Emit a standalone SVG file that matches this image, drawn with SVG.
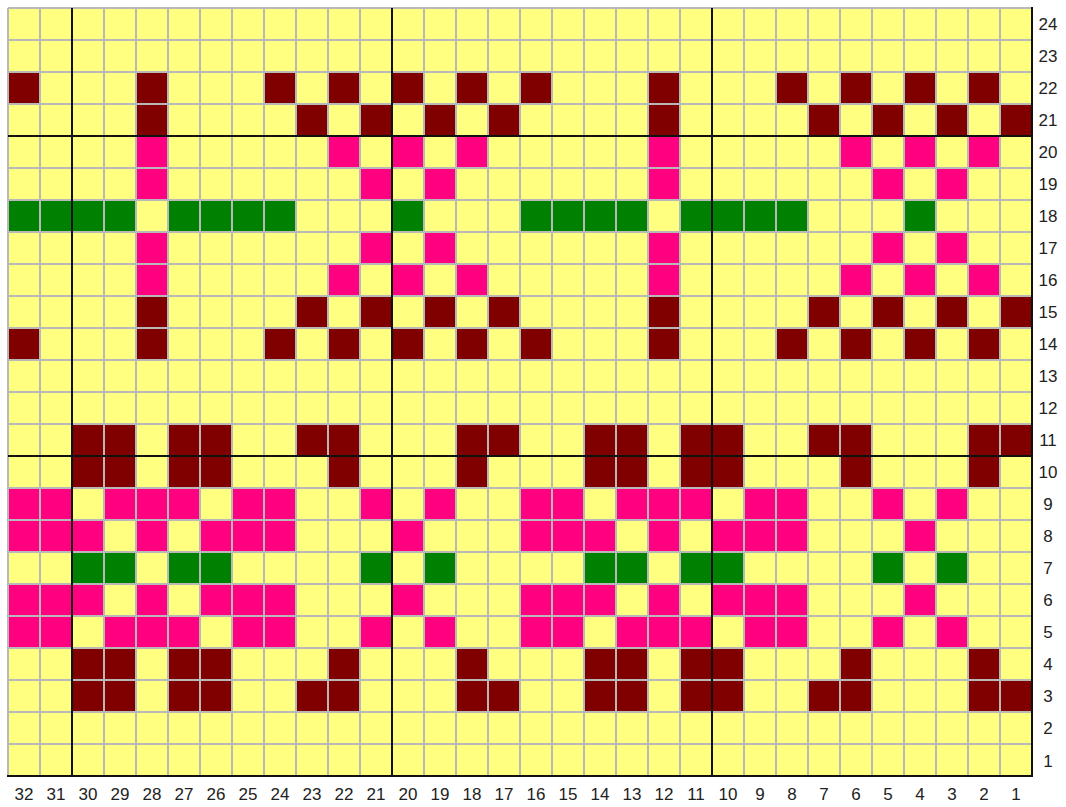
<svg xmlns="http://www.w3.org/2000/svg" width="1066" height="807" viewBox="0 0 1066 807">
<style>
.bg{fill:#ffff80}
.r{fill:#800000}
.p{fill:#ff0080}
.g{fill:#008000}
.grid{stroke:#b8b8b8;stroke-width:2;fill:none}
.thick{stroke:#111;stroke-width:2;fill:none}
text{font-family:"Liberation Sans",Arial,sans-serif;font-size:17px;fill:#222;text-anchor:middle}
</style>
<rect width="1066" height="807" fill="#fff"/>
<g id="chart">
<rect class="bg" x="8" y="8" width="1024" height="768"/>
<g id="darkred" class="r">
<path d="M8 72h32v32h-32zM136 72h32v32h-32zM264 72h32v32h-32zM328 72h32v32h-32zM392 72h32v32h-32zM456 72h32v32h-32zM520 72h32v32h-32zM648 72h32v32h-32zM776 72h32v32h-32zM840 72h32v32h-32zM904 72h32v32h-32zM968 72h32v32h-32z"/>
<path d="M136 104h32v32h-32zM296 104h32v32h-32zM360 104h32v32h-32zM424 104h32v32h-32zM488 104h32v32h-32zM648 104h32v32h-32zM808 104h32v32h-32zM872 104h32v32h-32zM936 104h32v32h-32zM1000 104h32v32h-32z"/>
<path d="M136 296h32v32h-32zM296 296h32v32h-32zM360 296h32v32h-32zM424 296h32v32h-32zM488 296h32v32h-32zM648 296h32v32h-32zM808 296h32v32h-32zM872 296h32v32h-32zM936 296h32v32h-32zM1000 296h32v32h-32z"/>
<path d="M8 328h32v32h-32zM136 328h32v32h-32zM264 328h32v32h-32zM328 328h32v32h-32zM392 328h32v32h-32zM456 328h32v32h-32zM520 328h32v32h-32zM648 328h32v32h-32zM776 328h32v32h-32zM840 328h32v32h-32zM904 328h32v32h-32zM968 328h32v32h-32z"/>
<path d="M72 424h64v32h-64zM168 424h64v32h-64zM296 424h64v32h-64zM456 424h64v32h-64zM584 424h64v32h-64zM680 424h64v32h-64zM808 424h64v32h-64zM968 424h64v32h-64z"/>
<path d="M72 456h64v32h-64zM168 456h64v32h-64zM328 456h32v32h-32zM456 456h32v32h-32zM584 456h64v32h-64zM680 456h64v32h-64zM840 456h32v32h-32zM968 456h32v32h-32z"/>
<path d="M72 648h64v32h-64zM168 648h64v32h-64zM328 648h32v32h-32zM456 648h32v32h-32zM584 648h64v32h-64zM680 648h64v32h-64zM840 648h32v32h-32zM968 648h32v32h-32z"/>
<path d="M72 680h64v32h-64zM168 680h64v32h-64zM296 680h64v32h-64zM456 680h64v32h-64zM584 680h64v32h-64zM680 680h64v32h-64zM808 680h64v32h-64zM968 680h64v32h-64z"/>
</g>
<g id="pink" class="p">
<path d="M136 136h32v32h-32zM328 136h32v32h-32zM392 136h32v32h-32zM456 136h32v32h-32zM648 136h32v32h-32zM840 136h32v32h-32zM904 136h32v32h-32zM968 136h32v32h-32z"/>
<path d="M136 168h32v32h-32zM360 168h32v32h-32zM424 168h32v32h-32zM648 168h32v32h-32zM872 168h32v32h-32zM936 168h32v32h-32z"/>
<path d="M136 232h32v32h-32zM360 232h32v32h-32zM424 232h32v32h-32zM648 232h32v32h-32zM872 232h32v32h-32zM936 232h32v32h-32z"/>
<path d="M136 264h32v32h-32zM328 264h32v32h-32zM392 264h32v32h-32zM456 264h32v32h-32zM648 264h32v32h-32zM840 264h32v32h-32zM904 264h32v32h-32zM968 264h32v32h-32z"/>
<path d="M8 488h64v32h-64zM104 488h96v32h-96zM232 488h64v32h-64zM360 488h32v32h-32zM424 488h32v32h-32zM520 488h64v32h-64zM616 488h96v32h-96zM744 488h64v32h-64zM872 488h32v32h-32zM936 488h32v32h-32z"/>
<path d="M8 520h96v32h-96zM136 520h32v32h-32zM200 520h96v32h-96zM392 520h32v32h-32zM520 520h96v32h-96zM648 520h32v32h-32zM712 520h96v32h-96zM904 520h32v32h-32z"/>
<path d="M8 584h96v32h-96zM136 584h32v32h-32zM200 584h96v32h-96zM392 584h32v32h-32zM520 584h96v32h-96zM648 584h32v32h-32zM712 584h96v32h-96zM904 584h32v32h-32z"/>
<path d="M8 616h64v32h-64zM104 616h96v32h-96zM232 616h64v32h-64zM360 616h32v32h-32zM424 616h32v32h-32zM520 616h64v32h-64zM616 616h96v32h-96zM744 616h64v32h-64zM872 616h32v32h-32zM936 616h32v32h-32z"/>
</g>
<g id="green" class="g">
<path d="M8 200h128v32h-128zM168 200h128v32h-128zM392 200h32v32h-32zM520 200h128v32h-128zM680 200h128v32h-128zM904 200h32v32h-32z"/>
<path d="M72 552h64v32h-64zM168 552h64v32h-64zM360 552h32v32h-32zM424 552h32v32h-32zM584 552h64v32h-64zM680 552h64v32h-64zM872 552h32v32h-32zM936 552h32v32h-32z"/>
</g>
<g id="gridlines">
<path class="grid" d="M8 8V776M40 8V776M72 8V776M104 8V776M136 8V776M168 8V776M200 8V776M232 8V776M264 8V776M296 8V776M328 8V776M360 8V776M392 8V776M424 8V776M456 8V776M488 8V776M520 8V776M552 8V776M584 8V776M616 8V776M648 8V776M680 8V776M712 8V776M744 8V776M776 8V776M808 8V776M840 8V776M872 8V776M904 8V776M936 8V776M968 8V776M1000 8V776"/>
<path class="grid" d="M8 8H1032M8 40H1032M8 72H1032M8 104H1032M8 136H1032M8 168H1032M8 200H1032M8 232H1032M8 264H1032M8 296H1032M8 328H1032M8 360H1032M8 392H1032M8 424H1032M8 456H1032M8 488H1032M8 520H1032M8 552H1032M8 584H1032M8 616H1032M8 648H1032M8 680H1032M8 712H1032M8 744H1032"/>
<path class="thick" d="M72 8V776M392 8V776M712 8V776M8 136H1032M8 456H1032M1032 7V777M7 776H1033"/>
</g>
</g>
<g id="row-labels">
<text x="1048" y="30">24</text>
<text x="1048" y="62">23</text>
<text x="1048" y="94">22</text>
<text x="1048" y="126">21</text>
<text x="1048" y="158">20</text>
<text x="1048" y="190">19</text>
<text x="1048" y="222">18</text>
<text x="1048" y="254">17</text>
<text x="1048" y="286">16</text>
<text x="1048" y="318">15</text>
<text x="1048" y="350">14</text>
<text x="1048" y="382">13</text>
<text x="1048" y="414">12</text>
<text x="1048" y="446">11</text>
<text x="1048" y="478">10</text>
<text x="1048" y="510">9</text>
<text x="1048" y="542">8</text>
<text x="1048" y="574">7</text>
<text x="1048" y="606">6</text>
<text x="1048" y="638">5</text>
<text x="1048" y="670">4</text>
<text x="1048" y="702">3</text>
<text x="1048" y="734">2</text>
<text x="1048" y="767">1</text>
</g>
<g id="column-labels">
<text x="24" y="800">32</text>
<text x="56" y="800">31</text>
<text x="88" y="800">30</text>
<text x="120" y="800">29</text>
<text x="152" y="800">28</text>
<text x="184" y="800">27</text>
<text x="216" y="800">26</text>
<text x="248" y="800">25</text>
<text x="280" y="800">24</text>
<text x="312" y="800">23</text>
<text x="344" y="800">22</text>
<text x="376" y="800">21</text>
<text x="408" y="800">20</text>
<text x="440" y="800">19</text>
<text x="472" y="800">18</text>
<text x="504" y="800">17</text>
<text x="536" y="800">16</text>
<text x="568" y="800">15</text>
<text x="600" y="800">14</text>
<text x="632" y="800">13</text>
<text x="664" y="800">12</text>
<text x="696" y="800">11</text>
<text x="728" y="800">10</text>
<text x="760" y="800">9</text>
<text x="792" y="800">8</text>
<text x="824" y="800">7</text>
<text x="856" y="800">6</text>
<text x="888" y="800">5</text>
<text x="920" y="800">4</text>
<text x="952" y="800">3</text>
<text x="984" y="800">2</text>
<text x="1016" y="800">1</text>
</g>
</svg>
